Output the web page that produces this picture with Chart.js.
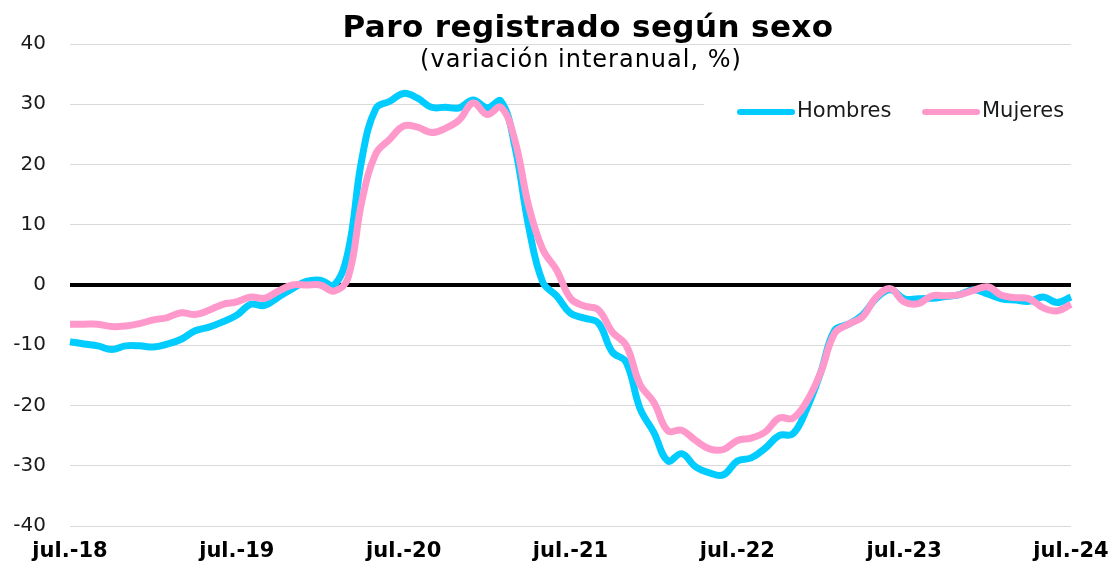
<!DOCTYPE html>
<html>
<head>
<meta charset="utf-8">
<script src="https://cdn.jsdelivr.net/npm/chart.js@4"></script>
<style>
  html, body { margin: 0; padding: 0; background: #fff; }
</style>
</head>
<body>
<canvas id="c" width="1113" height="565"></canvas>
<script>
// Paro registrado según sexo (variación interanual, %), jul.-18 a jul.-24

const monthNames = ['ene.', 'feb.', 'mar.', 'abr.', 'may.', 'jun.', 'jul.', 'ago.', 'sep.', 'oct.', 'nov.', 'dic.'];

// monthly categories jul.-18 ... jul.-24
const labels = [];
for (let y = 2018; y <= 2024; y++) {
  for (let m = 0; m < 12; m++) {
    if ((y === 2018 && m < 6) || (y === 2024 && m > 6)) continue;
    labels.push(monthNames[m] + '-' + String(y).slice(2));
  }
}

const hombres = [
  -9.4, -9.8, -10.1, -10.7, -10.1, -10.1, -10.3, -9.8, -9.0, -7.6, -7.0, -6.1,
  -5.0, -3.2, -3.4, -2.0, -0.6, 0.6, 0.8, 0.0, 5.5, 21.0, 29.3, 30.5,
  31.8, 31.0, 29.5, 29.5, 29.4, 30.7, 29.4, 30.5, 23.0, 9.6, 0.5, -1.8,
  -4.7, -5.5, -6.3, -11.1, -12.8, -20.5, -24.5, -29.2, -28.0, -30.2, -31.2, -31.5,
  -29.2, -28.7, -27.1, -25.0, -24.7, -20.5, -14.5, -7.5, -6.5, -5.0, -2.2, -0.8,
  -2.3, -2.3, -2.2, -1.9, -1.6, -0.8, -1.5, -2.3, -2.5, -2.7, -2.0, -2.9,
  -2.0
];

const mujeres = [
  -6.5, -6.5, -6.5, -6.9, -6.8, -6.4, -5.8, -5.4, -4.6, -4.9, -4.2, -3.2,
  -2.8, -2.0, -2.2, -1.0, 0.0, 0.0, 0.0, -1.0, 1.2, 14.0, 21.8, 24.2,
  26.4, 26.2, 25.3, 26.0, 27.4, 30.2, 28.3, 29.5, 24.0, 13.0, 5.9, 2.5,
  -2.2, -3.5, -4.1, -7.8, -10.0, -16.5, -19.5, -24.2, -24.1, -25.8, -27.2, -27.3,
  -25.8, -25.4, -24.4, -22.1, -22.1, -19.3, -14.5, -8.0, -6.5, -5.3, -2.0, -0.6,
  -2.8, -3.1, -1.8, -1.8, -1.6, -0.9, -0.3, -1.7, -2.1, -2.3, -3.8, -4.3,
  -3.2
];

const titleText = 'Paro registrado según sexo';
const subtitleText = '(variación interanual, %)';

// title, subtitle and the floating legend drawn over the plot
const overlayPlugin = {
  id: 'overlay',
  afterDraw(chart) {
    const ctx = chart.ctx;
    ctx.save();
    ctx.fillStyle = '#000';
    ctx.textAlign = 'center';
    ctx.textBaseline = 'alphabetic';
    ctx.letterSpacing = '0.4px';
    ctx.font = 'bold 31px "DejaVu Sans", Verdana, sans-serif';
    ctx.fillText(titleText, 588, 37);
    ctx.letterSpacing = '1px';
    ctx.font = '24px "DejaVu Sans", Verdana, sans-serif';
    ctx.fillText(subtitleText, 581, 67);
    ctx.letterSpacing = '0px';

    // legend box
    ctx.fillStyle = '#fff';
    ctx.fillRect(704, 88, 376, 46);
    const items = chart.data.datasets;
    const xs = [737, 922];
    ctx.font = '21px "DejaVu Sans", Verdana, sans-serif';
    ctx.textAlign = 'left';
    ctx.textBaseline = 'middle';
    items.forEach((ds, i) => {
      ctx.strokeStyle = ds.borderColor;
      ctx.lineWidth = 6;
      ctx.lineCap = 'round';
      ctx.beginPath();
      ctx.moveTo(xs[i] + 3, 112);
      ctx.lineTo(xs[i] + 55, 112);
      ctx.stroke();
      ctx.fillStyle = '#1a1a1a';
      ctx.fillText(ds.label, xs[i] + 60, 112);
    });
    ctx.restore();
  }
};

new Chart(document.getElementById('c'), {
  type: 'line',
  data: {
    labels: labels,
    datasets: [
      {
        label: 'Hombres',
        data: hombres,
        borderColor: '#00ccff',
        borderWidth: 7,
        pointRadius: 0,
        tension: 0.4,
        order: 1
      },
      {
        label: 'Mujeres',
        data: mujeres,
        borderColor: '#ff99cc',
        borderWidth: 7,
        pointRadius: 0,
        tension: 0.4,
        order: 0
      }
    ]
  },
  options: {
    responsive: false,
    animation: false,
    layout: { padding: { top: 44, left: 13, right: 42, bottom: 1 } },
    plugins: {
      legend: { display: false },
      title: { display: false },
      tooltip: { enabled: false }
    },
    scales: {
      x: {
        offset: false,
        grid: { display: false, drawTicks: false },
        border: { display: false },
        afterFit(scale) {
          scale.paddingLeft = 0;
          scale.paddingRight = 0;
          scale.height = 38;
        },
        ticks: {
          autoSkip: false,
          maxRotation: 0,
          padding: 13,
          color: '#000',
          font: { family: '"DejaVu Sans", Verdana, sans-serif', weight: 'bold', size: 21 },
          callback: function (value, index) {
            const l = labels[index];
            return l.startsWith('jul.') ? l : '';
          }
        }
      },
      y: {
        min: -40,
        max: 40,
        afterFit(scale) {
          scale.width = 57;
        },
        grid: {
          drawTicks: false,
          color: (c) => c.tick && c.tick.value === 0 ? '#000' : '#d9d9d9',
          lineWidth: (c) => c.tick && c.tick.value === 0 ? 4 : 1
        },
        border: { display: false },
        ticks: {
          stepSize: 10,
          padding: 24,
          color: '#1a1a1a',
          font: { family: '"DejaVu Sans", Verdana, sans-serif', size: 20 }
        }
      }
    }
  },
  plugins: [overlayPlugin]
});
</script>
</body>
</html>
